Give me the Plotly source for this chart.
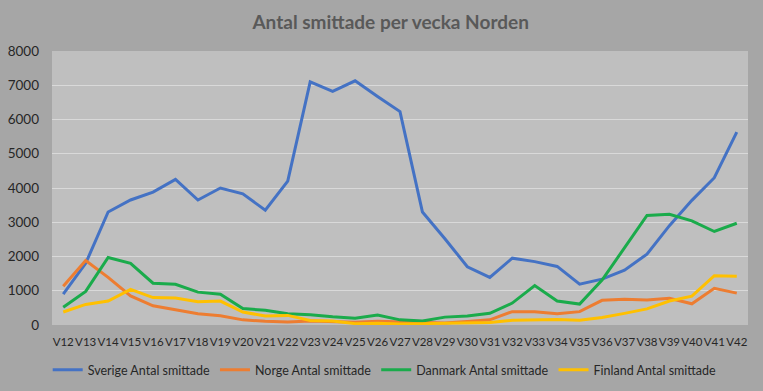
import plotly.graph_objects as go

weeks = ["V12","V13","V14","V15","V16","V17","V18","V19","V20","V21","V22","V23","V24","V25","V26",
         "V27","V28","V29","V30","V31","V32","V33","V34","V35","V36","V37","V38","V39","V40","V41","V42"]

sverige = [900, 1800, 3300, 3650, 3880, 4250, 3650, 4000, 3830, 3350, 4200, 7100, 6820, 7130, 6670,
           6230, 3300, 2520, 1700, 1390, 1950, 1850, 1710, 1190, 1340, 1600, 2070, 2900, 3640, 4300, 5630]
norge = [1130, 1880, 1390, 850, 560, 450, 330, 270, 150, 110, 90, 120, 100, 80, 110,
         90, 60, 60, 100, 150, 390, 390, 330, 390, 720, 750, 730, 780, 620, 1070, 930]
danmark = [520, 980, 1970, 1800, 1220, 1190, 960, 900, 480, 430, 330, 300, 240, 200, 290,
           150, 120, 230, 260, 340, 640, 1150, 700, 610, 1310, 2250, 3200, 3230, 3040, 2730, 2970]
finland = [380, 600, 700, 1040, 800, 790, 680, 700, 380, 260, 280, 130, 120, 40, 50,
           30, 40, 50, 60, 70, 140, 150, 160, 140, 220, 340, 470, 700, 840, 1440, 1420]

series = [
    ("Sverige Antal smittade", sverige, "#4472C4"),
    ("Norge Antal smittade", norge, "#ED7D31"),
    ("Danmark Antal smittade", danmark, "#1AAB4B"),
    ("Finland Antal smittade", finland, "#FFC000"),
]

fig = go.Figure()
for name, vals, color in series:
    fig.add_trace(go.Scatter(x=weeks, y=vals, name=name, mode="lines",
                             line=dict(color=color, width=3)))

fig.update_layout(
    width=763, height=391,
    margin=dict(l=52, r=15, t=51, b=66, autoexpand=False),
    paper_bgcolor="#A6A6A6",
    plot_bgcolor="#BFBFBF",
    font=dict(family="Lato, 'Open Sans', sans-serif", size=13, color="#262626"),
    title=dict(text="<b>Antal smittade per vecka Norden</b>", x=0.512, xanchor="center",
               y=0.943, yanchor="middle",
               font=dict(family="Lato, 'Open Sans', sans-serif", size=19, color="#595959")),
    showlegend=True,
    legend=dict(orientation="h", x=0.478, xanchor="center", y=-0.165, yanchor="middle",
                font=dict(size=12.5, color="#262626"), bgcolor="rgba(0,0,0,0)",
                tracegroupgap=0),
)
fig.update_xaxes(type="category", range=[-0.5, 30.5], showgrid=False, zeroline=False,
                 showline=False, ticks="", tickfont=dict(size=11.5), tickangle=0,
                 ticklabelstandoff=8, automargin=False)
fig.update_yaxes(range=[0, 8000], dtick=1000, showgrid=True, gridcolor="#D9D9D9",
                 gridwidth=1, zeroline=False, showline=False, ticks="",
                 tickfont=dict(size=13.5), ticklabelstandoff=12, automargin=False)

fig.write_html("out.html", config={"displayModeBar": False},
               post_script="document.body.style.margin='0';document.body.style.background='#EDEDED';")
